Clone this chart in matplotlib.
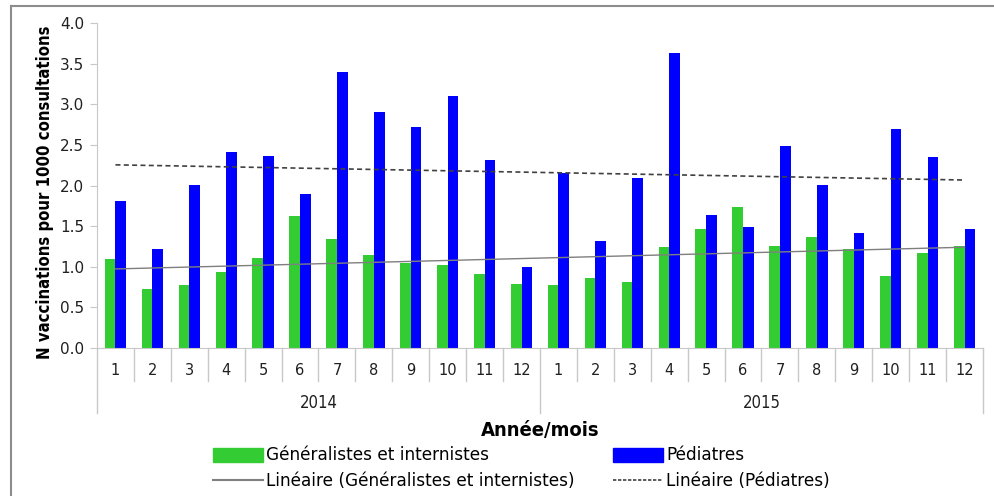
import numpy as np
import matplotlib
matplotlib.use("Agg")
import matplotlib.pyplot as plt
from matplotlib.lines import Line2D
from matplotlib.patches import Patch
from matplotlib import font_manager

mois = ["1", "2", "3", "4", "5", "6", "7", "8", "9", "10", "11", "12"] * 2
annees = ["2014", "2015"]
generalistes = [1.09, 0.73, 0.77, 0.93, 1.11, 1.63, 1.34, 1.14, 1.05, 1.02, 0.91, 0.79,
                0.78, 0.86, 0.81, 1.24, 1.46, 1.74, 1.25, 1.37, 1.22, 0.89, 1.17, 1.26]
pediatres = [1.81, 1.22, 2.01, 2.41, 2.36, 1.89, 3.40, 2.90, 2.72, 3.10, 2.31, 1.00,
             2.15, 1.32, 2.09, 3.63, 1.64, 1.49, 2.49, 2.01, 1.41, 2.69, 2.35, 1.46]

# police étroite si disponible (DejaVu Sans Condensed)
cond = [f for f in font_manager.fontManager.ttflist if f.name == "DejaVu Sans" and f.stretch == "condensed"]
etroit = dict(family="DejaVu Sans", fontstretch="condensed") if cond else dict(family="DejaVu Sans")

vert = "#33CC33"
bleu = "#0000FF"
gris = "#C8C8C8"

fig = plt.figure(figsize=(9.95, 4.96), dpi=100)
ax = fig.add_axes([97 / 995, 1 - 348 / 496, (983 - 97) / 995, 325 / 496])

x = np.arange(1, len(mois) + 1)
w = 0.29
ax.bar(x - w / 2, generalistes, w, color=vert, zorder=2)
ax.bar(x + w / 2, pediatres, w, color=bleu, zorder=2)

# droites de tendance (ajustement linéaire, comme Excel)
a, b = np.polyfit(x, generalistes, 1)
ax.plot(x, a * x + b, color="#7F7F7F", lw=1.0, zorder=3)
a, b = np.polyfit(x, pediatres, 1)
ax.plot(x, a * x + b, color="#404040", lw=1.2, ls=(0, (3, 2)), zorder=3)

ax.set_xlim(0.5, len(mois) + 0.5)
ax.set_ylim(0, 4)
ax.set_yticks(np.arange(0, 4.01, 0.5))
ax.set_yticklabels([f"{v:.1f}" for v in np.arange(0, 4.01, 0.5)], fontsize=11, color="#202020")
ax.tick_params(axis="y", length=5, color=gris, pad=4)
ax.set_xticks(x)
ax.set_xticklabels(mois, fontsize=10.5, color="#202020")
ax.tick_params(axis="x", length=0, pad=11)
for s in ["top", "right"]:
    ax.spines[s].set_visible(False)
for s in ["left", "bottom"]:
    ax.spines[s].set_color(gris)

# séparateurs mois / années sous l'axe
trans = ax.get_xaxis_transform()
for k in range(len(mois) + 1):
    bord = k + 0.5
    bas = -65 / 325 if k % 12 == 0 else -33 / 325
    ax.plot([bord, bord], [0, bas], color=gris, lw=1, transform=trans, clip_on=False)
for i, an in enumerate(annees):
    ax.text(6.5 + 12 * i, -55 / 325, an, transform=trans, ha="center", va="center",
            fontsize=12, color="#202020", **etroit)

ax.text(0.5, -82 / 325, "Année/mois", transform=ax.transAxes, ha="center", va="center",
        fontsize=14.5, fontweight="bold", **etroit)
fig.text(45 / 995, 1 - 192 / 496, "N vaccinations pour 1000 consultations", rotation=90,
         ha="center", va="center", fontsize=12 if cond else 11, fontweight="bold", **etroit)

handles = [Patch(color=vert), Line2D([], [], color="#7F7F7F", lw=1.5),
           Patch(color=bleu), Line2D([], [], color="#404040", lw=1.2, ls=(0, (2, 1)))]
labels = ["Généralistes et internistes", "Linéaire (Généralistes et internistes)",
          "Pédiatres", "Linéaire (Pédiatres)"]
fig.legend(handles, labels, ncol=2, loc="upper left", bbox_to_anchor=(205 / 995, 1 - 438 / 496),
           frameon=False, fontsize=12.2, handlelength=2.95, handleheight=0.9,
           handletextpad=0.15, columnspacing=2.3, labelspacing=0.45, borderpad=0)

# cadre extérieur
fig.add_artist(Line2D([11 / 995, 11 / 995], [0, 1 - 6 / 496], color="#8C8C8C", lw=1.5))
fig.add_artist(Line2D([11 / 995, 1], [1 - 6 / 496, 1 - 6 / 496], color="#8C8C8C", lw=1.5))

fig.savefig("out.png", dpi=100)
